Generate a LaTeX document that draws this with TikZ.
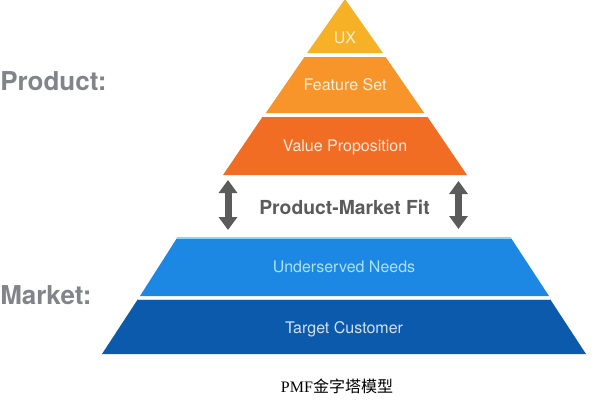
\documentclass[tikz,border=0pt]{standalone}
\usepackage{fontspec}
\setmainfont{TeX Gyre Heros}
\newfontfamily\capserif{Liberation Serif}
\newfontfamily\cjk{Noto Sans CJK SC}
\usetikzlibrary{arrows.meta}

\definecolor{uxorange}{HTML}{F6B126}
\definecolor{featorange}{HTML}{F7952B}
\definecolor{valorange}{HTML}{F26D24}
\definecolor{needblue}{HTML}{1C88E3}
\definecolor{custblue}{HTML}{0B5AAC}
\definecolor{edgecyan}{HTML}{86D6F7}
\definecolor{labelgray}{HTML}{818488}
\definecolor{fitgray}{HTML}{5B5B5B}

\begin{document}
\begin{tikzpicture}[x=0.75pt,y=-0.75pt,
  layer/.style={inner sep=0pt, font=\fontsize{12}{14}\selectfont},
  side/.style={anchor=west, inner sep=0pt, text=labelgray, font=\fontsize{19.5}{22}\selectfont\bfseries},
  fitarrow/.style={draw=fitgray, line width=5.25pt, {Triangle[length=9.75pt,width=13.5pt]}-{Triangle[length=9.75pt,width=13.5pt]}}]
\useasboundingbox (0,0) rectangle (594,404);
% product pyramid
\fill[uxorange] (345,-1) -- (382.9,53) -- (307.1,53) -- cycle;
\fill[featorange] (304.4,57) -- (385.6,57) -- (424.2,113) -- (265.8,113) -- cycle;
\fill[valorange] (262.4,117) -- (427.6,117) -- (467,175) -- (223,175) -- cycle;
\node[layer, text=white!80!uxorange] (ux) at (345,38) {UX};
\node[layer, text=white!85!featorange] (feat) at (345,85) {Feature Set};
\node[layer, text=white!85!valorange] (val) at (345,147) {Value Proposition};
% market pyramid
\fill[needblue] (177,238) -- (511,238) -- (549,296) -- (140,296) -- cycle;
\fill[custblue] (138,299) -- (550,299) -- (586,354) -- (102,354) -- cycle;
\draw[edgecyan, line width=0.9pt] (177,238) -- (511,238);
\draw[edgecyan!60, line width=0.6pt] (138,299) -- (550,299);
\node[layer, text=edgecyan!70!white] (need) at (344,267) {Underserved Needs};
\node[layer, text=white!82!custblue] (cust) at (344,329) {Target Customer};
% side labels
\node[side] (prod) at (0,81) {Product:};
\node[side] (mkt) at (0,295) {Market:};
% fit
\node[inner sep=0pt, text=fitgray, font=\fontsize{14.5}{17}\selectfont\bfseries] (fit) at (344.5,207) {Product-Market Fit};
\coordinate (lat) at (228,180);
\coordinate (lab) at (228,230);
\coordinate (rat) at (458.5,181);
\coordinate (rab) at (458.5,229);
\draw[fitarrow] (lat) -- (lab);
\draw[fitarrow] (rat) -- (rab);
% caption
\node[inner sep=0pt, font=\fontsize{12}{14}\selectfont] (cap) at (337,386) {\capserif PMF\cjk 金字塔模型};
\end{tikzpicture}
\end{document}
